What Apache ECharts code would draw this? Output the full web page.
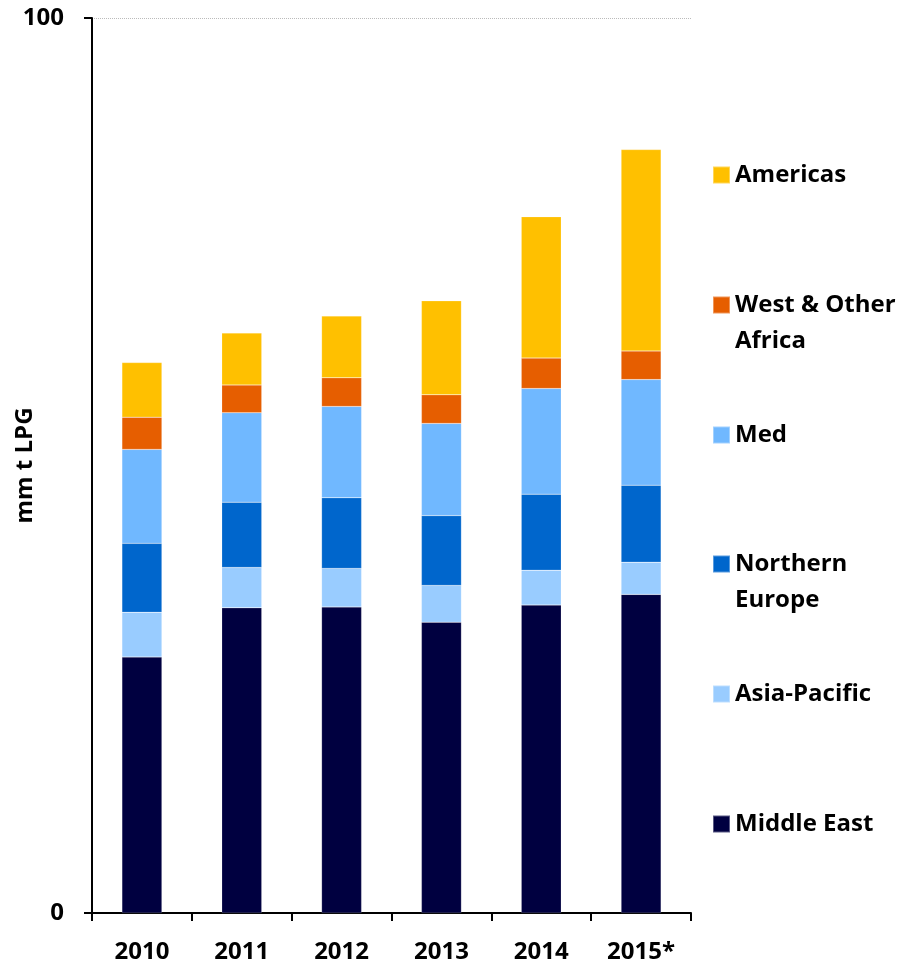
<!DOCTYPE html>
<html>
<head>
<meta charset="utf-8">
<script src="https://cdn.jsdelivr.net/npm/echarts@6/dist/echarts.min.js"></script>
<style>html,body{margin:0;padding:0;background:#fff;}#c{width:905px;height:964px;}</style>
</head>
<body>
<div id="c"></div>
<script>
var categories = ['2010', '2011', '2012', '2013', '2014', '2015*'];
var middleEast = [28.6, 34.1, 34.2, 32.5, 34.4, 35.6];
var asiaPacific = [5.0, 4.5, 4.3, 4.1, 3.9, 3.6];
var northernEurope = [7.7, 7.3, 7.9, 7.8, 8.5, 8.6];
var med = [10.5, 10.0, 10.2, 10.3, 11.8, 11.8];
var westOtherAfrica = [3.6, 3.1, 3.2, 3.2, 3.4, 3.2];
var americas = [6.1, 5.8, 6.9, 10.5, 15.8, 22.5];
var yTicks = [0, 100];

var FONT = 'Open Sans';
var seriesDefs = [
  {name: 'Middle East', data: middleEast, color: '#000040'},
  {name: 'Asia-Pacific', data: asiaPacific, color: '#99CCFF'},
  {name: 'Northern Europe', data: northernEurope, color: '#0066CC'},
  {name: 'Med', data: med, color: '#70B8FF'},
  {name: 'West & Other Africa', data: westOtherAfrica, color: '#E65E00'},
  {name: 'Americas', data: americas, color: '#FFC000'}
];
var legendText = {
  'Middle East': 'Middle East',
  'Asia-Pacific': 'Asia-Pacific',
  'Northern Europe': '\nNorthern\nEurope',
  'Med': 'Med',
  'West & Other Africa': '\nWest & Other\nAfrica',
  'Americas': 'Americas'
};
// icon centre y for each legend entry
var legendCenters = {
  'Americas': 175, 'West & Other Africa': 305, 'Med': 435,
  'Northern Europe': 564, 'Asia-Pacific': 694, 'Middle East': 824
};
var LH = 36, FS = 24;
var legends = seriesDefs.map(function (s) {
  var lines = legendText[s.name].split('\n').length;
  var top = legendCenters[s.name] - lines * LH / 2;
  return {
    data: [s.name],
    left: 712,
    top: top,
    padding: 0,
    itemWidth: 17,
    itemHeight: 17,
    icon: 'rect',
    itemGap: 0,
    selectedMode: false,
    formatter: function (n) { return legendText[n]; },
    textStyle: {
      fontFamily: FONT, fontWeight: 'bold', fontSize: FS, color: '#000',
      lineHeight: LH
    }
  };
});

var chart = echarts.init(document.getElementById('c'));
chart.setOption({
  animation: false,
  backgroundColor: '#fff',
  legend: legends,
  grid: {left: 92, right: 214, top: 18, bottom: 51, containLabel: false, outerBoundsMode: 'none'},
  xAxis: {
    type: 'category',
    data: categories,
    axisLine: {lineStyle: {color: '#000', width: 2}},
    axisTick: {show: true, length: 8, lineStyle: {color: '#000', width: 2}},
    axisLabel: {fontFamily: FONT, fontWeight: 'bold', fontSize: FS, color: '#000', margin: 27}
  },
  yAxis: {
    type: 'value',
    min: yTicks[0], max: yTicks[yTicks.length - 1], interval: 100,
    name: 'mm t LPG',
    nameLocation: 'middle',
    nameGap: 55,
    nameMoveOverlap: false,
    nameTextStyle: {fontFamily: FONT, fontWeight: 'bold', fontSize: 24, color: '#000'},
    axisLine: {show: true, lineStyle: {color: '#000', width: 2}},
    axisTick: {show: true, length: 8, lineStyle: {color: '#000', width: 2}},
    axisLabel: {fontFamily: FONT, fontWeight: 'bold', fontSize: FS, color: '#000', margin: 28},
    splitLine: {show: true, lineStyle: {color: '#bbb', type: 'dotted', width: 1}}
  },
  series: seriesDefs.map(function (s) {
    return {
      name: s.name, type: 'bar', stack: 'total', data: s.data, barWidth: 40,
      itemStyle: {color: s.color, borderColor: 'rgba(255,255,255,0.35)', borderWidth: 0.5}
    };
  })
});
</script>
</body>
</html>
